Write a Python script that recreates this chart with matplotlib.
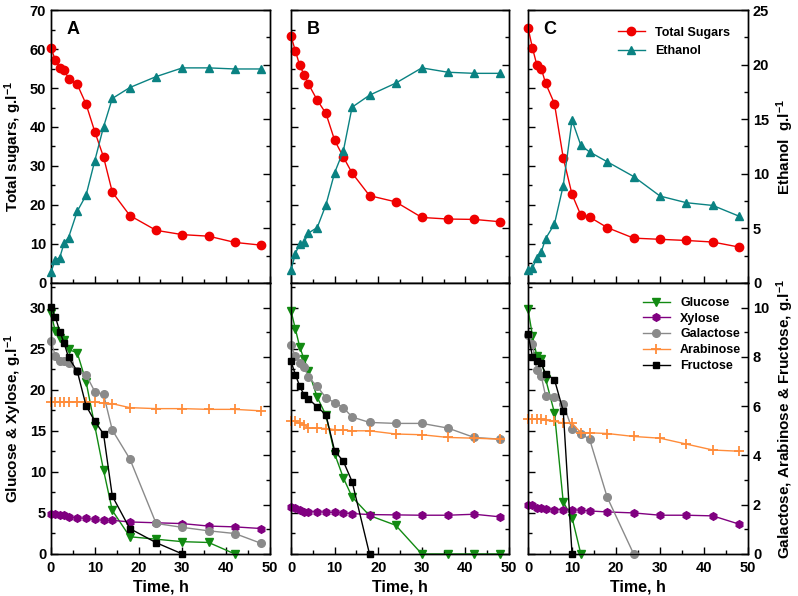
import numpy as np
import matplotlib.pyplot as plt
from matplotlib.ticker import MultipleLocator

plt.rcParams['font.family'] = ['Liberation Sans', 'DejaVu Sans']
plt.rcParams['font.weight'] = 'bold'
plt.rcParams['axes.labelweight'] = 'bold'
plt.rcParams['mathtext.fontset'] = 'custom'
plt.rcParams['mathtext.bf'] = 'Liberation Sans:bold'
plt.rcParams['mathtext.rm'] = 'Liberation Sans:bold'
plt.rcParams['mathtext.default'] = 'bf'

# sampling times, h
t = [0, 1, 2, 3, 4, 6, 8, 10, 12, 14, 18, 24, 30, 36, 42, 48]

# total sugars (g/l, left) and ethanol (g/l, right) for panels A, B, C
sugars_A = [60.3, 57.1, 55.2, 54.7, 52.4, 50.9, 45.9, 38.8, 32.3, 23.3, 17.3, 13.5, 12.4, 12.0, 10.4, 9.7]
sugars_B = [63.3, 59.5, 55.8, 53.4, 51.0, 46.9, 43.5, 36.6, 32.3, 28.2, 22.4, 20.8, 16.8, 16.4, 16.3, 15.7]
sugars_C = [65.4, 60.3, 55.9, 55.0, 51.2, 46.0, 32.1, 22.7, 17.4, 16.9, 14.2, 11.5, 11.2, 10.9, 10.5, 9.2]
ethanol_A = [1.0, 2.14, 2.32, 3.67, 4.15, 6.57, 8.03, 11.2, 14.3, 16.9, 17.9, 18.9, 19.7, 19.7, 19.6, 19.6]
ethanol_B = [1.2, 2.69, 3.61, 3.73, 4.58, 5.07, 7.15, 10.1, 12.1, 16.1, 17.2, 18.3, 19.7, 19.3, 19.2, 19.2]
ethanol_C = [1.17, 1.36, 2.31, 2.84, 4.07, 5.40, 8.92, 14.9, 12.6, 12.0, 11.1, 9.75, 7.96, 7.35, 7.10, 6.11]

# glucose & xylose (left axis)
glucose_A = [29.3, 27.1, 26.3, 26.1, 24.9, 24.5, 21.0, 15.6, 10.2, 5.3, 2.1, 1.8, 1.5, 1.4, 0.0]
glucose_B = [29.6, 27.4, 25.2, 23.7, 22.3, 19.1, 16.9, 12.2, 9.27, 6.94, 4.68, 3.5, 0.0, 0.0, 0.0, 0.0]
glucose_C = [29.8, 26.6, 24.1, 23.7, 21.3, 17.2, 6.33, 4.44, 0.0]
xylose_A = [4.9, 4.84, 4.8, 4.72, 4.5, 4.4, 4.35, 4.2, 4.1, 4.1, 3.9, 3.8, 3.7, 3.4, 3.3, 3.1]
xylose_B = [5.73, 5.56, 5.32, 5.16, 5.12, 5.16, 5.08, 5.08, 5.0, 4.92, 4.8, 4.76, 4.72, 4.72, 4.84, 4.52]
xylose_C = [6.0, 5.93, 5.65, 5.56, 5.52, 5.4, 5.4, 5.4, 5.32, 5.24, 5.12, 5.0, 4.72, 4.72, 4.64, 3.63]

# galactose, arabinose & fructose (right axis)
galactose_A = [8.66, 8.02, 7.85, 7.82, 7.74, 7.42, 7.28, 6.59, 6.48, 5.03, 3.86, 1.24, 1.08, 0.94, 0.83, 0.43]
galactose_B = [8.47, 8.02, 7.76, 7.58, 7.18, 6.8, 6.34, 6.14, 5.94, 5.56, 5.34, 5.3, 5.3, 5.11, 4.73, 4.66]
galactose_C = [8.9, 8.52, 7.45, 7.22, 6.41, 6.37, 6.1, 5.07, 4.89, 4.65, 2.3, 0.0]
arabinose_A = [6.18, 6.18, 6.18, 6.18, 6.18, 6.18, 6.17, 6.17, 6.12, 6.1, 5.94, 5.9, 5.9, 5.87, 5.87, 5.81]
arabinose_B = [5.40, 5.38, 5.3, 5.24, 5.11, 5.11, 5.09, 5.05, 5.03, 5.0, 5.0, 4.87, 4.84, 4.73, 4.7, 4.66]
arabinose_C = [5.47, 5.47, 5.47, 5.47, 5.43, 5.38, 5.32, 5.31, 4.92, 4.92, 4.89, 4.77, 4.70, 4.46, 4.22, 4.17]
fructose_A = [10.04, 9.62, 9.03, 8.56, 7.98, 7.42, 6.02, 5.39, 4.87, 2.35, 1.03, 0.46, 0.0]
fructose_B = [7.82, 7.28, 6.81, 6.45, 6.30, 5.97, 5.65, 4.19, 3.76, 2.94, 0.0]
fructose_C = [8.92, 8.01, 7.82, 7.74, 7.31, 7.08, 5.81, 0.0]

panels = ['A', 'B', 'C']
top_data = [(sugars_A, ethanol_A), (sugars_B, ethanol_B), (sugars_C, ethanol_C)]
bot_data = [(glucose_A, xylose_A, galactose_A, arabinose_A, fructose_A),
            (glucose_B, xylose_B, galactose_B, arabinose_B, fructose_B),
            (glucose_C, xylose_C, galactose_C, arabinose_C, fructose_C)]

c_red, c_teal = '#f00000', '#0a8282'
c_green, c_purple, c_grey, c_orange = '#128a12', '#800080', '#8a8a8a', '#ff8c3a'

fig = plt.figure(figsize=(7.98, 5.96), dpi=100)
lefts = [0.0639, 0.3647, 0.6617]
widths = [0.2744, 0.2732, 0.2757]


def style(ax, minor_y, major_y):
    ax.set_xlim(0, 50)
    ax.xaxis.set_major_locator(MultipleLocator(10))
    ax.xaxis.set_minor_locator(MultipleLocator(5))
    ax.yaxis.set_major_locator(MultipleLocator(major_y))
    ax.yaxis.set_minor_locator(MultipleLocator(minor_y))
    ax.tick_params(which='both', direction='in', top=False, labelsize=10.5)
    ax.tick_params(axis='x', pad=5)
    ax.tick_params(which='major', length=5, width=1)
    ax.tick_params(which='minor', length=3, width=1)
    for s in ax.spines.values():
        s.set_linewidth(1.0)


def bold_ticks(ax):
    for lbl in ax.get_xticklabels() + ax.get_yticklabels():
        lbl.set_fontweight('bold')


for i in range(3):
    # top row
    ax = fig.add_axes([lefts[i], 0.5252, widths[i], 0.4580])
    ax2 = ax.twinx()
    sug, eth = top_data[i]
    l1, = ax.plot(t, sug, '-o', color=c_red, ms=6, lw=1, clip_on=False, zorder=3)
    l2, = ax2.plot(t, eth, '-^', color=c_teal, ms=6, lw=1, clip_on=False, zorder=3)
    ax.set_ylim(0, 70)
    ax2.set_ylim(0, 25)
    style(ax, 5, 10)
    style(ax2, 2.5, 5)
    ax.tick_params(labelbottom=False, labelleft=(i == 0))
    ax2.tick_params(labelright=(i == 2))
    ax.text(5, 65, panels[i], fontsize=13, fontweight='bold', ha='center', va='center')
    if i == 0:
        ax.set_ylabel('Total sugars, g.l$^{-1}$', fontsize=11, fontweight='bold')
    if i == 2:
        ax2.set_ylabel('Ethanol  g.l$^{-1}$', fontsize=11, fontweight='bold')
        ax.legend([l1, l2], ['Total Sugars', 'Ethanol'], loc='upper right', frameon=False,
                  prop={'size': 9, 'weight': 'bold'}, handlelength=2.2,
                  bbox_to_anchor=(0.97, 0.98))
    bold_ticks(ax)
    bold_ticks(ax2)

    # bottom row
    bx = fig.add_axes([lefts[i], 0.0705, widths[i], 0.4547])
    bx2 = bx.twinx()
    glu, xyl, gal, ara, fru = bot_data[i]
    h1, = bx.plot(t[:len(glu)], glu, '-v', color=c_green, ms=5.5, lw=1, clip_on=False, zorder=3)
    h2, = bx.plot(t[:len(xyl)], xyl, '-h', color=c_purple, ms=5.5, lw=1, clip_on=False, zorder=3)
    h3, = bx2.plot(t[:len(gal)], gal, '-o', color=c_grey, ms=5.5, lw=1, clip_on=False, zorder=2)
    h4, = bx2.plot(t[:len(ara)], ara, '-+', color=c_orange, ms=7, mew=1.3, lw=1, clip_on=False, zorder=2)
    h5, = bx2.plot(t[:len(fru)], fru, '-s', color='black', ms=5, lw=1, clip_on=False, zorder=3)
    bx.set_ylim(0, 33)
    bx2.set_ylim(0, 11)
    style(bx, 2.5, 5)
    style(bx2, 1, 2)
    bx.tick_params(labelleft=(i == 0))
    bx2.tick_params(labelright=(i == 2))
    bx.set_xlabel('Time, h', fontsize=11.5, fontweight='bold', labelpad=3)
    if i == 0:
        bx.set_ylabel('Glucose & Xylose, g.l$^{-1}$', fontsize=11, fontweight='bold')
    if i == 2:
        bx2.set_ylabel('Galactose, Arabinose & Fructose, g.l$^{-1}$', fontsize=11, fontweight='bold')
        bx.legend([h1, h2, h3, h4, h5], ['Glucose', 'Xylose', 'Galactose', 'Arabinose', 'Fructose'],
                  loc='upper right', frameon=False, prop={'size': 9, 'weight': 'bold'},
                  handlelength=2.2, labelspacing=0.3, bbox_to_anchor=(1.02, 0.99))
    bold_ticks(bx)
    bold_ticks(bx2)

fig.savefig('out.png', dpi=100)
